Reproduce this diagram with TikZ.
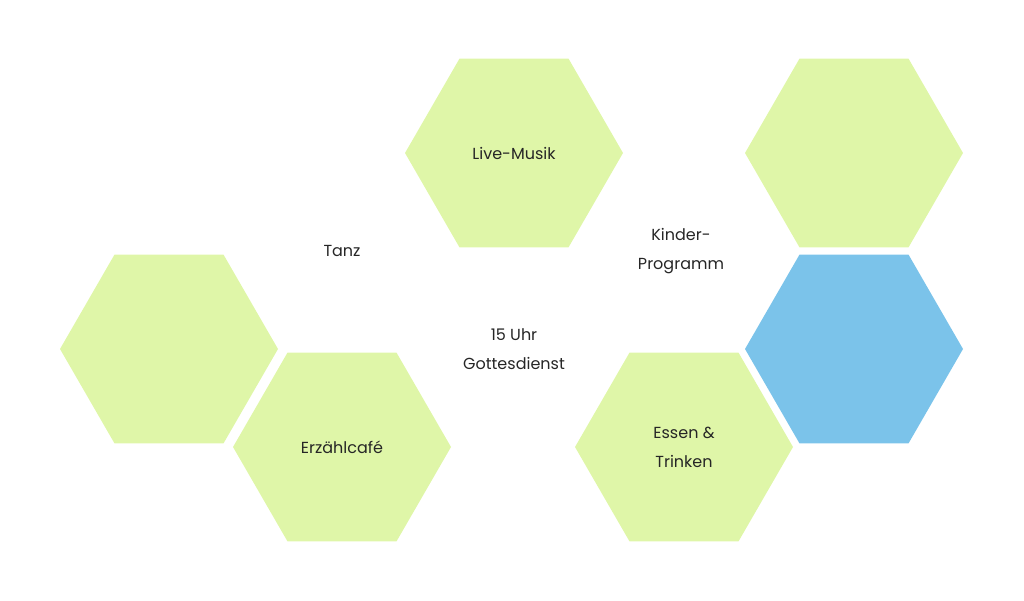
\documentclass[tikz,border=0pt]{standalone}
\usepackage{fontspec}
\setmainfont{Poppins}
\definecolor{hgreen}{HTML}{DFF6A8}
\definecolor{hblue}{HTML}{7BC3EA}
\begin{document}
\begin{tikzpicture}[x=1pt,y=-1pt,lbl/.style={font=\fontsize{16}{29}\selectfont,align=center,text=black!85}]
\useasboundingbox (0,0) rectangle (1024,601);
\newcommand\hexa[3]{\fill[#3] (#1,#2) +(0:109) -- +(60:109) -- +(120:109) -- +(180:109) -- +(240:109) -- +(300:109) -- cycle;}
\hexa{514}{153}{hgreen}
\hexa{854}{153}{hgreen}
\hexa{854}{349}{hblue}
\hexa{169}{349}{hgreen}
\hexa{342}{447}{hgreen}
\hexa{684}{447}{hgreen}
\node[lbl] (lm) at (514,153) {Live-Musik};
\node[lbl] (tz) at (342,251) {Tanz};
\node[lbl] (kp) at (681,251) {Kinder-\\Programm};
\node[lbl] (gd) at (514,349) {15 Uhr\\Gottesdienst};
\node[lbl] (ec) at (342,447) {Erzählcafé};
\node[lbl] (et) at (684,447) {Essen \&\\Trinken};
\end{tikzpicture}
\end{document}
